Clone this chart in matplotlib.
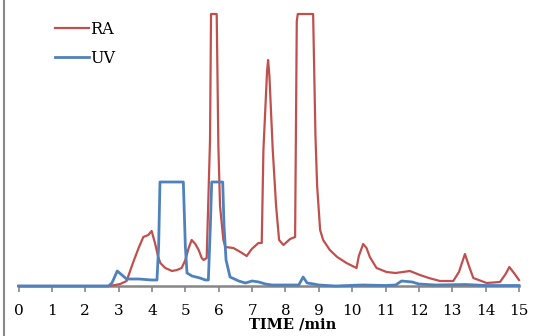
import matplotlib
matplotlib.use('Agg')
import matplotlib.pyplot as plt
from matplotlib.lines import Line2D

# RA trace (time in min, signal)
ra_t = [0, 2.7, 2.9, 3.05, 3.24, 3.44, 3.6, 3.74, 3.89, 3.99, 4.09, 4.18, 4.25, 4.4, 4.6, 4.75,
        4.89, 5.0, 5.1, 5.19, 5.3, 5.4, 5.49, 5.55, 5.64, 5.74, 5.77, 5.94, 5.99, 6.04, 6.14, 6.2,
        6.44, 6.65, 6.84, 6.99, 7.19, 7.29, 7.34, 7.45, 7.48, 7.52, 7.62, 7.72, 7.81, 7.94, 8.14,
        8.29, 8.34, 8.37, 8.5, 8.6, 8.83, 8.9, 8.95, 9.04, 9.13, 9.33, 9.55, 9.83, 10.13, 10.2,
        10.33, 10.43, 10.53, 10.73, 11.03, 11.3, 11.73, 12.03, 12.3, 12.63, 13.03, 13.2, 13.38,
        13.5, 13.63, 14.03, 14.43, 14.6, 14.71, 14.85, 15.0]
ra_y = [0, 0, 1, 2, 5, 24, 38, 49, 51, 55, 43, 30, 23, 18, 15, 16,
        18, 26, 38, 46, 42, 36, 28, 26, 28, 146, 272, 272, 140, 80, 46, 39,
        38, 34, 30, 37, 43, 43, 136, 215, 226, 210, 136, 80, 46, 41, 47,
        49, 265, 272, 272, 272, 272, 150, 100, 56, 46, 36, 29, 23, 18, 30,
        42, 38, 29, 18, 14, 13, 15, 11, 8, 5, 5, 14, 32,
        20, 8, 3, 4, 12, 19, 13, 6]

# UV trace
uv_t = [0, 2.7, 2.8, 2.96, 3.1, 3.24, 3.6, 4.0, 4.15, 4.2, 4.24, 4.94, 5.0, 5.05, 5.2, 5.44,
        5.6, 5.69, 5.75, 5.79, 6.12, 6.16, 6.22, 6.34, 6.6, 6.8, 7.0, 7.2, 7.4, 7.6, 7.84, 8.4,
        8.53, 8.65, 8.85, 9.0, 9.5, 10.3, 11.0, 11.3, 11.48, 11.8, 12.0, 12.5, 13.4, 14.0, 15.0]
uv_y = [0, 0, 3, 15, 11, 7, 7, 6, 6, 40, 104, 104, 40, 13, 10, 8,
        6, 6, 60, 104, 104, 60, 26, 9, 5, 3, 5, 4, 2, 1, 1, 1,
        9, 3, 2, 1, 0, 1, 0.5, 1, 5, 4, 2, 1, 1.5, 0.5, 0.5]

x_ticks = list(range(0, 16))

fig = plt.figure(figsize=(5.33, 3.36), dpi=100)
ax = fig.add_axes([18.5 / 533, 50 / 336, 500.5 / 533, 272 / 336])

ax.plot(ra_t, ra_y, color='#C0504D', lw=1.6, label='RA', clip_on=False, zorder=3)
ax.plot(uv_t, uv_y, color='#4F81BD', lw=2.0, label='UV', clip_on=False, zorder=4)

ax.set_xlim(0, 15)
ax.set_ylim(0, 272)
ax.set_yticks([])
for s in ['top', 'right', 'left']:
    ax.spines[s].set_visible(False)
ax.spines['bottom'].set_color('#868686')
ax.spines['bottom'].set_linewidth(1.8)
ax.set_xticks(x_ticks)
ax.tick_params(axis='x', direction='out', length=4, width=1.2, color='#868686',
               pad=9, labelsize=11)
for lab in ax.get_xticklabels():
    lab.set_family('DejaVu Serif')

fig.text(293 / 533, 1 - 325 / 336, 'TIME /min', ha='center', va='center',
         family='DejaVu Serif', fontweight='bold', fontsize=10.5)

# left border line
fig.add_artist(Line2D([4 / 533, 4 / 533], [0, 1], transform=fig.transFigure,
                      color='#888888', lw=1.5))

ax.legend(loc='upper left', bbox_to_anchor=(47 / 533, 1 - 13 / 336),
          bbox_transform=fig.transFigure, frameon=False, borderpad=0,
          handlelength=2.1, handletextpad=0.1, labelspacing=0.75,
          prop={'family': 'DejaVu Serif', 'size': 11.5})

fig.savefig('out.png', dpi=100)
